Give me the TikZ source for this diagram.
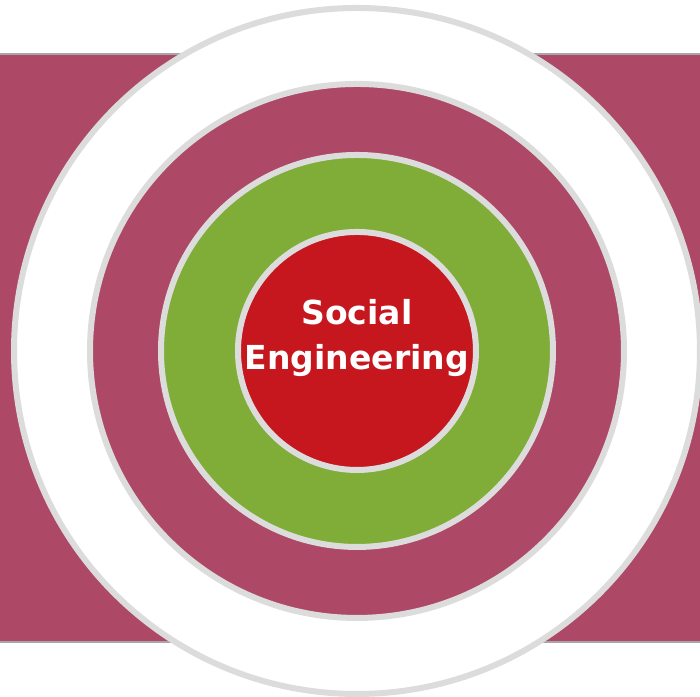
\documentclass[tikz,border=0pt]{standalone}
\usepackage{fontspec}
\newfontfamily\labelfont{DejaVu Sans}
\definecolor{targetred}{HTML}{C6171F}
\definecolor{targetgreen}{HTML}{80AC38}
\definecolor{targetmaroon}{HTML}{AD4866}
\definecolor{ringgray}{HTML}{DCDCDC}

\begin{document}
\begin{tikzpicture}[
  ring/.style={draw=ringgray, line width=0.06cm},
  label/.style={text=white, inner sep=0pt, font=\labelfont\bfseries\fontsize{9.4}{12}\selectfont}
]
\useasboundingbox (0,0) rectangle (7,6.97);
\clip (0,0) rectangle (7,6.97);

% Draw the band behind the target
\fill[targetmaroon] (0,0.56) rectangle (7,6.42);
\draw[gray!70, line width=0.025cm] (0,6.43) -- (7,6.43);
\draw[gray!70, line width=0.025cm] (0,0.55) -- (7,0.55);

% Draw the rings from the outside in
\coordinate (centre) at (3.57,3.46);
\draw[ring, fill=white] (centre) circle (3.43);
\draw[ring, fill=targetmaroon] (centre) circle (2.67);
\draw[ring, fill=targetgreen] (centre) circle (1.96);
\draw[ring, fill=targetred] (centre) circle (1.19);

% Label the bull's eye
\node[label, anchor=base] (social) at (3.57,3.72) {Social};
\node[label, anchor=base] (engineering) at (3.57,3.27) {Engineering};

\end{tikzpicture}
\end{document}
